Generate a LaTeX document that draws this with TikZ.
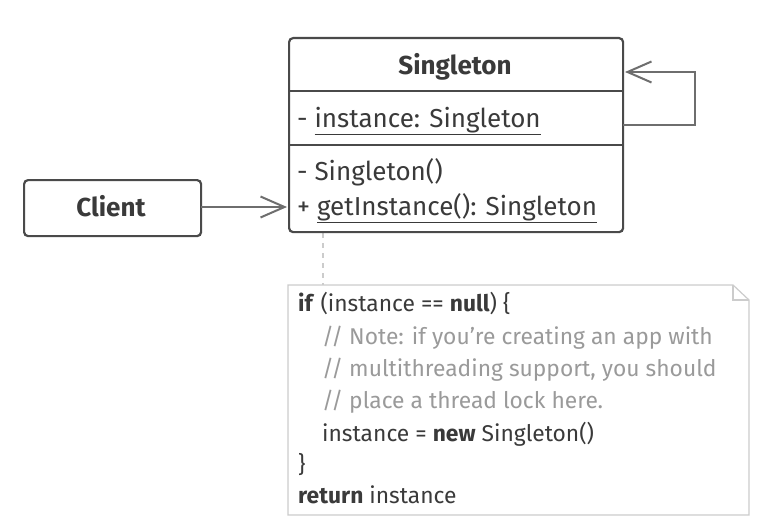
\documentclass[tikz,border=0pt]{standalone}
\usepackage{fontspec}
\setmainfont{Fira Sans}
\usetikzlibrary{arrows.meta}
\definecolor{ln}{HTML}{4A4A4A}
\definecolor{cn}{HTML}{6E6E6E}
\definecolor{tx}{HTML}{3A3A3A}
\definecolor{cm}{HTML}{9A9A9A}
\definecolor{nb}{HTML}{CCCCCC}
\tikzset{
  box/.style={draw=ln, line width=2.2pt, rounded corners=4pt, fill=white},
  conn/.style={draw=cn, line width=2pt, -{Straight Barb[length=24pt,width=21pt,line width=2pt]}},
  txt/.style={text=tx, font=\fontsize{26}{28}\selectfont, inner sep=0pt, anchor=base west},
  ttl/.style={text=tx, font=\fontsize{26}{28}\selectfont\bfseries, inner sep=0pt, anchor=base},
  code/.style={text=tx, font=\fontsize{22.8}{26}\selectfont, inner sep=0pt, anchor=base west},
  cmt/.style={text=cm, font=\fontsize{22.8}{26}\selectfont, inner sep=0pt, anchor=base west},
}
\newcommand{\ul}[1]{\underline{#1}}
\begin{document}
\begin{tikzpicture}[x=1pt,y=-1pt]
\useasboundingbox (0,0) rectangle (759,524);
% note
\draw[nb, line width=1.2pt, fill=white] (288,285) -- (733,285) -- (749,300) -- (749,515) -- (288,515) -- cycle;
\draw[nb, line width=1.2pt] (733,285) -- (733,300) -- (749,300);
\coordinate (notetop) at (323,285);
% dashed
\coordinate (dashtop) at (323,233);
\draw[nb, line width=1.4pt, dash pattern=on 5pt off 5pt] (dashtop) -- (notetop);
% Singleton class
\node[box, minimum width=334pt, minimum height=194pt, anchor=north west, inner sep=0pt] (sing) at (288,37) {};
\draw[ln, line width=2.2pt] (288,91) -- (622,91);
\draw[ln, line width=2.2pt] (288,145) -- (622,145);
\node[ttl] (stitle) at (455,75) {Singleton};
\node[txt] (attr) at (297,127) {- \ul{instance: Singleton}};
\node[txt] (m1) at (297,180) {- Singleton()};
\node[txt] (m2) at (297,215) {+ \ul{getInstance(): Singleton}};
% client
\node[box, minimum width=177pt, minimum height=56pt, anchor=north west, inner sep=0pt] (client) at (23,179) {};
\node[ttl] (clientt) at (111,216) {Client};
% arrows
\coordinate (cl) at (201,207);
\coordinate (sl) at (287,207);
\draw[conn] (cl) -- (sl);
\coordinate (sa) at (623,125);
\coordinate (sb) at (625,72);
\draw[conn] (sa) -- (695,125) -- (695,72) -- (sb);
% code lines
\node[code] (c1) at (298,311) {\textbf{if} (instance == \textbf{null}) \{};
\node[cmt] (c2) at (322,344) {// Note: if you’re creating an app with};
\node[cmt] (c3) at (322,376) {// multithreading support, you should};
\node[cmt] (c4) at (322,408) {// place a thread lock here.};
\node[code] (c5) at (322,441) {instance = \textbf{new} Singleton()};
\node[code] (c6) at (298,472) {\}};
\node[code] (c7) at (298,503) {\textbf{return} instance};
\end{tikzpicture}
\end{document}
